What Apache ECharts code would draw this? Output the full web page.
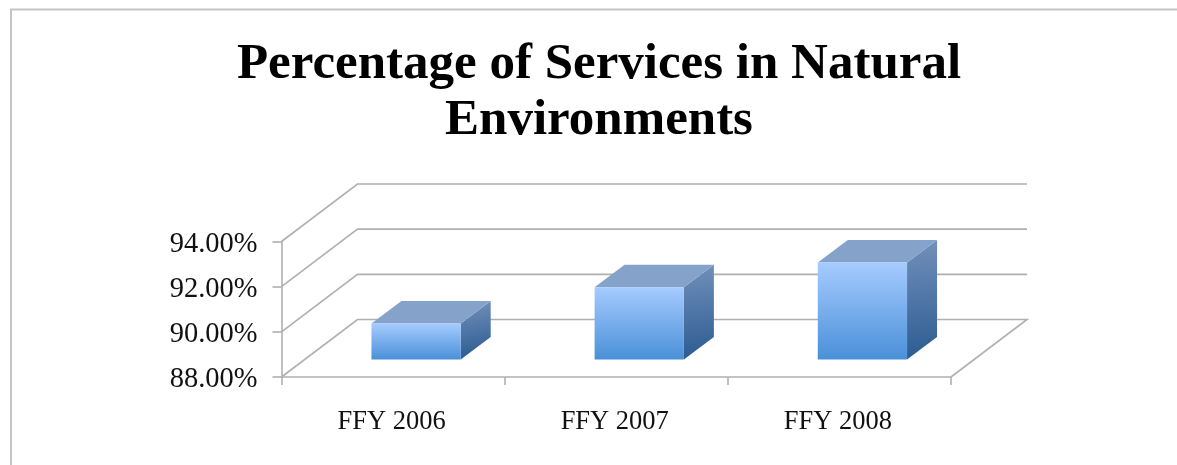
<!DOCTYPE html>
<html>
<head>
<meta charset="utf-8">
<style>html,body{margin:0;padding:0;background:#fff}#c{width:1177px;height:465px}</style>
<script src="https://cdn.jsdelivr.net/npm/echarts@6/dist/echarts.min.js"></script>
</head>
<body>
<div id="c"></div>
<script>
const titleText = 'Percentage of Services in Natural\nEnvironments';
const categories = ['FFY 2006', 'FFY 2007', 'FFY 2008'];
const values = [89.59, 91.2, 92.29];
const yTicks = [88, 90, 92, 94];

const fontFamily = '"Liberation Serif", serif';
const lineColor = '#b0b0b0';
const wallDx = 76, wallDy = 57.5;     // depth of the chart box
const barShiftX = 23, barShiftY = 17.5; // bar front plane inside the box
const barDx = 30, barDy = 22.5;       // depth of a bar

const chart = echarts.init(document.getElementById('c'), null, { renderer: 'canvas' });

function grad(x, y, x2, y2, a, b) {
  return new echarts.graphic.LinearGradient(x, y, x2, y2, [
    { offset: 0, color: a }, { offset: 1, color: b }
  ]);
}

function renderWall(params, api) {
  const cs = params.coordSys;
  const y = api.coord([0, api.value(1)])[1];
  const left = cs.x, right = cs.x + cs.width;
  const isFloor = api.value(1) === yTicks[0];
  const pts = [[left, y], [left + wallDx, y - wallDy], [right + wallDx, y - wallDy]];
  if (isFloor) pts.push([right, y]);
  return {
    type: 'polyline',
    shape: { points: pts },
    style: { stroke: lineColor, lineWidth: 1.6, fill: null }
  };
}

function renderBar(params, api) {
  const top = api.coord([api.value(0), api.value(1)]);
  const base = api.coord([api.value(0), yTicks[0]]);
  const w = api.size([1, 0])[0] * 0.4;
  const x0 = top[0] - w / 2 + barShiftX, x1 = x0 + w;
  const yT = top[1] - barShiftY, yB = base[1] - barShiftY;
  return {
    type: 'group',
    children: [
      {
        type: 'polygon',
        shape: { points: [[x1, yT], [x1 + barDx, yT - barDy], [x1 + barDx, yB - barDy], [x1, yB]] },
        style: { fill: grad(0, 0, 0.35, 1, '#7390BA', '#2C5C92') }
      },
      {
        type: 'polygon',
        shape: { points: [[x0, yT], [x0 + barDx, yT - barDy], [x1 + barDx, yT - barDy], [x1, yT]] },
        style: { fill: '#85A2CA' }
      },
      {
        type: 'rect',
        shape: { x: x0, y: yT, width: w, height: yB - yT },
        style: { fill: grad(0, 0, 0, 1, '#A6CBFF', '#4A90D8') }
      }
    ]
  };
}

chart.setOption({
  animation: false,
  backgroundColor: '#ffffff',
  title: {
    text: titleText,
    left: 594,
    top: 32,
    textAlign: 'center',
    textStyle: {
      fontFamily, fontWeight: 'bold', fontSize: 51, lineHeight: 56, color: '#000'
    }
  },
  grid: { left: 281.5, right: 226, top: 241.5, bottom: 88, containLabel: false },
  xAxis: {
    type: 'category',
    data: categories,
    axisLine: { lineStyle: { color: lineColor, width: 1.6 } },
    axisTick: { show: true, length: 8, alignWithLabel: false, lineStyle: { color: lineColor, width: 1.6 } },
    axisLabel: { color: '#111', fontFamily, fontSize: 26.5, margin: 32, padding: [0, 3, 0, 0] },
    splitLine: { show: false }
  },
  yAxis: {
    type: 'value',
    min: yTicks[0],
    max: yTicks[yTicks.length - 1],
    interval: 2,
    axisLine: { show: true, lineStyle: { color: lineColor, width: 1.6 } },
    axisTick: { show: true, length: 9, lineStyle: { color: lineColor, width: 1.6 } },
    axisLabel: {
      margin: 24,
      formatter: v => '{t|' + v.toFixed(2) + '%}',
      rich: {
        t: { color: '#111', fontFamily, fontSize: 28.5, padding: [6, 0, 0, 0] }
      }
    },
    splitLine: { show: false }
  },
  series: [
    {
      type: 'custom',
      silent: true,
      z: 1,
      clip: false,
      renderItem: renderWall,
      data: yTicks.map(t => [0, t])
    },
    {
      type: 'custom',
      silent: true,
      z: 2,
      clip: false,
      renderItem: renderBar,
      data: values.map((v, i) => [i, v])
    }
  ],
  graphic: [
    {
      type: 'polyline',
      silent: true,
      shape: { points: [[11, 465], [11, 9.5], [1177, 9.5]] },
      style: { stroke: '#c4c4c4', lineWidth: 2, fill: null }
    }
  ]
});
</script>
</body>
</html>
